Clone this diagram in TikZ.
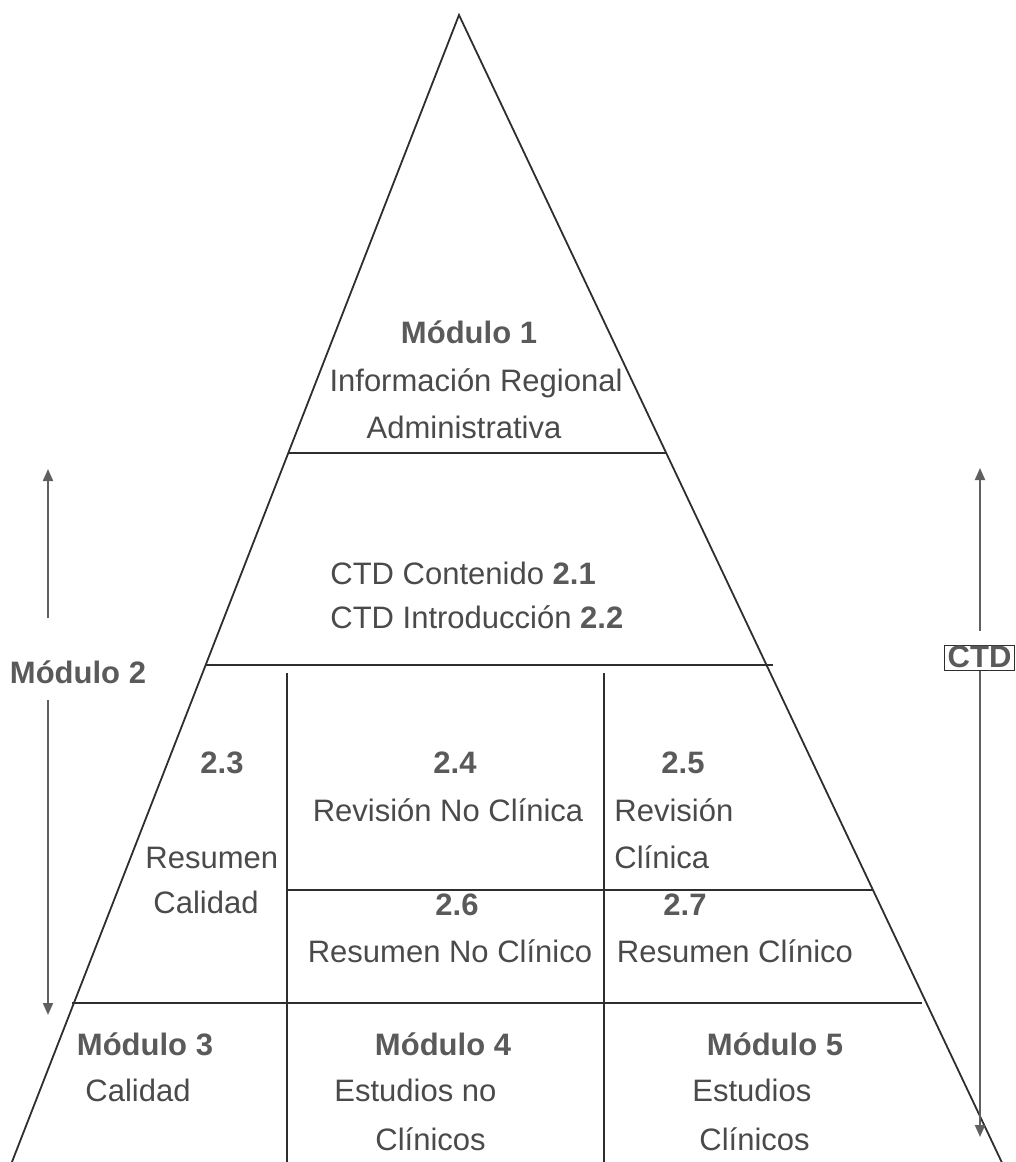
\documentclass[tikz,border=0pt]{standalone}
\usepackage{fontspec}
\setmainfont{Liberation Sans}
\usetikzlibrary{arrows.meta,calc}
\definecolor{txtc}{HTML}{4A4A4A}
\definecolor{boldc}{HTML}{5A5A5A}
\definecolor{linec}{HTML}{2E2E2E}
\definecolor{arrc}{HTML}{606060}
\begin{document}
\begin{tikzpicture}[x=0.5pt,y=-0.5pt,
  tx/.style={inner sep=0pt, text=txtc, font=\fontsize{15.5}{18}\selectfont, text height=11pt, text depth=3pt},
  bt/.style={tx, text=boldc, font=\fontsize{15.5}{18}\selectfont\bfseries},
  edge/.style={draw=linec, line width=0.9pt},
  arr/.style={draw=arrc, line width=1pt, -{Triangle[length=6pt,width=5pt]}}]
\useasboundingbox (0,0) rectangle (1016,1162);
% pyramid
\coordinate (apex) at (459,15);
\coordinate (bl) at (10,1167);
\coordinate (br) at (1004,1167);
\draw[edge] (bl) -- (apex) -- (br);
% horizontal dividers
\coordinate (h1l) at (288,453); \coordinate (h1r) at (666,453);
\coordinate (h2l) at (205,665); \coordinate (h2r) at (773,665);
\coordinate (h3l) at (288,890); \coordinate (h3r) at (873,890);
\coordinate (h4l) at (72,1003); \coordinate (h4r) at (922,1003);
\draw[edge] (h1l) -- (h1r);
\draw[edge] (h2l) -- (h2r);
\draw[edge] (h3l) -- (h3r);
\draw[edge] (h4l) -- (h4r);
% vertical dividers
\coordinate (v1t) at (287,673); \coordinate (v1b) at (287,1170);
\coordinate (v2t) at (604,673); \coordinate (v2b) at (604,1170);
\draw[edge] (v1t) -- (v1b);
\draw[edge] (v2t) -- (v2b);
% texts
\node[bt] (m1) at (469,335) {Módulo 1};
\node[tx] (m1a) at (476,383) {Información Regional};
\node[tx] (m1b) at (464,430) {Administrativa};
\node[tx, anchor=west] (c21) at (330,576) {CTD Contenido \textcolor{boldc}{\bfseries 2.1}};
\node[tx, anchor=west] (c22) at (330,620) {CTD Introducción \textcolor{boldc}{\bfseries 2.2}};
\node[bt] (m2) at (78,675) {Módulo 2};
\node[bt] (n23) at (222,765) {2.3};
\node[tx, anchor=west] (r23a) at (145,860) {Resumen};
\node[tx, anchor=west] (r23b) at (153,905) {Calidad};
\node[bt] (n24) at (455,765) {2.4};
\node[tx] (r24) at (448,813) {Revisión No Clínica};
\node[bt] (n25) at (683,765) {2.5};
\node[tx, anchor=west] (r25a) at (614,813) {Revisión};
\node[tx, anchor=west] (r25b) at (614,860) {Clínica};
\node[bt] (n26) at (457,907) {2.6};
\node[tx] (r26) at (450,954) {Resumen No Clínico};
\node[bt] (n27) at (685,907) {2.7};
\node[tx] (r27) at (735,954) {Resumen Clínico};
\node[bt] (m3) at (145,1047) {Módulo 3};
\node[tx, anchor=west] (m3a) at (85,1093) {Calidad};
\node[bt] (m4) at (443,1047) {Módulo 4};
\node[tx, anchor=west] (m4a) at (334,1093) {Estudios no};
\node[tx, anchor=west] (m4b) at (375,1142) {Clínicos};
\node[bt] (m5) at (775,1047) {Módulo 5};
\node[tx, anchor=west] (m5a) at (692,1093) {Estudios};
\node[tx, anchor=west] (m5b) at (699,1142) {Clínicos};
% CTD box
\node[bt, draw=linec, line width=0.6pt, anchor=east, inner xsep=1.5pt, inner ysep=1pt, text height=10pt, text depth=0.5pt] (ctd) at (1015,658) {CTD};
% arrows
\coordinate (ltop) at (48,469);
\coordinate (lbot) at (48,1015);
\coordinate (lup) at (48,618);
\coordinate (ldn) at (48,700);
\draw[arr] (lup) -- (ltop);
\draw[arr] (ldn) -- (lbot);
\coordinate (rtop) at (980,468);
\coordinate (rbot) at (980,1137);
\draw[arr, shorten <=7pt] (ctd.north -| rtop) -- (rtop);
\draw[arr] (ctd.south -| rbot) -- (rbot);
\end{tikzpicture}
\end{document}
